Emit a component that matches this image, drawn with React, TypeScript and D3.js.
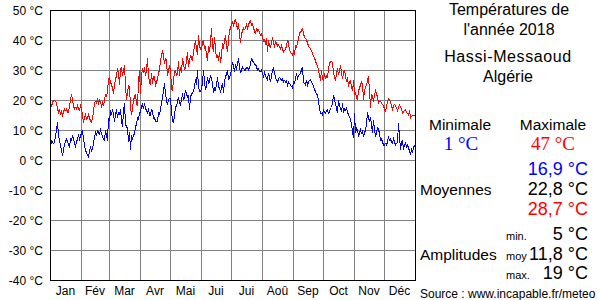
import React from "react";
import * as d3 from "d3";

const monthLabels = ["Jan", "Fév", "Mar", "Avr", "Mai", "Jui", "Jui", "Aoû", "Sep", "Oct", "Nov", "Déc"];
const monthDays = [31, 28, 31, 30, 31, 30, 31, 31, 30, 31, 30, 31];
const yTicks = [50, 40, 30, 20, 10, 0, -10, -20, -30, -40];

const maxTemps = [
  18.5, 18, 19, 20, 20, 19.5, 19, 17, 16, 17, 15, 16, 15, 16, 17, 16.5, 17, 16, 16, 18, 20, 22, 20, 18, 17, 17.5, 17, 18, 17, 16.5, 18,
  17, 15, 12.5, 14, 15, 13.5, 14, 15, 14, 13, 12.5, 14, 16, 19, 19.5, 19, 20, 19, 20, 19.5, 18, 19, 18, 20, 22, 21, 23, 27,
  27.5, 26, 25, 24, 22, 25, 27, 28, 30.5, 29, 25, 30, 31, 28, 30, 31.5, 25, 20, 22.5, 25, 24, 18, 15, 17, 20, 21, 22, 19, 18, 26, 30,
  22, 28, 30.5, 29, 31, 28, 30, 34, 28, 26, 25, 29, 25.5, 28, 28, 24.5, 26, 27, 29, 30, 33, 35, 36, 35, 32, 34, 33, 28, 30, 31,
  30, 24, 23, 27, 29, 30, 28, 29, 33, 28, 31, 29, 34, 32, 30, 31, 33, 36, 31, 33, 35, 34, 33, 36, 38, 40, 37, 35, 41.5, 38, 37,
  37, 39, 40, 37, 38, 35, 33, 38, 36, 39, 44, 38, 36, 41, 37, 34, 35, 33, 36, 32.5, 35, 39, 37, 40, 41.5, 38, 36, 40, 43, 44,
  45.5, 46, 45, 46, 47, 45, 44, 45.5, 42, 39, 42, 43, 44, 43.5, 44, 45, 44, 45, 46, 46.5, 45, 45.5, 44, 43, 42, 44, 43, 43.5, 42.5, 41.5, 42,
  41, 39.5, 40, 39, 40.5, 36, 40, 38, 37.5, 39, 41, 39, 38, 39.5, 39, 38, 38.5, 37.5, 37, 38, 37, 36, 36.5, 37, 38, 40, 39, 36.5, 36, 35.5, 35,
  36, 35, 38, 37.5, 39, 40.5, 42, 43, 43, 44, 42, 41, 40.5, 40, 39, 38, 37.5, 37, 36.5, 35.5, 34.5, 34, 33, 32, 31.5, 30, 28, 26.5, 30, 27,
  26.5, 29, 27, 28, 27.5, 30.5, 32, 33, 33, 32.5, 29, 27.5, 26.5, 29, 30.5, 28.5, 29.5, 31.5, 29, 27, 29, 30, 28, 26, 27.5, 24.5, 26, 26.5, 24.5, 23, 26.5,
  22, 22.5, 21, 20, 23, 24, 25, 26, 25.5, 20, 23, 24.5, 25, 26.5, 28, 23, 17.5, 22, 21, 20, 21.5, 23, 22, 21, 19, 19.5, 19.5, 19, 18.5, 18,
  17, 16, 18, 19.5, 20.5, 20, 19.5, 18, 17, 18, 18.5, 18, 17.5, 16.5, 17.5, 18.3, 17.8, 17, 15.5, 16, 16.5, 16.7, 16, 15.5, 15, 16.5, 14, 14.5, 15, 15, 15,
];

const minTemps = [
  8, 5.5, 6, 5.5, 6, 8, 10, 12.5, 8, 6.5, 5, 3, 1.5, 3.3, 5, 6.5, 7, 6, 5.5, 4, 7, 6.5, 8, 7.5, 5.5, 4.5, 6, 7, 8.5, 7, 8,
  9, 10, 7, 5, 3, 2.8, 1.5, 1, 3, 4.5, 2.8, 4, 5.5, 7.8, 9, 8, 10, 9, 8.5, 10, 9, 7.5, 7, 6.5, 10, 8, 6.5, 13.9,
  13, 16.5, 15, 17, 15, 12.8, 15, 17, 14, 16, 15, 17, 13, 11, 16, 19, 12, 11, 11, 6, 9.4, 3.3, 8.3, 7.2, 8, 9, 11, 12, 14, 13.5, 15.6,
  16, 17.8, 18.5, 17, 18.9, 17, 16.7, 15.5, 17.2, 15, 15, 17, 16, 13.9, 14, 13, 12.8, 12.8, 16, 15, 17.2, 19, 21, 23, 25.6, 22, 20, 18.3, 20, 20.5,
  20.5, 16, 13.3, 12.2, 15, 17.8, 18, 19.4, 21, 19, 18.3, 20, 22.2, 20, 21, 23.3, 22, 21, 21.5, 16.7, 21, 22, 22.2, 23.3, 24, 27, 25, 30, 24.4, 23, 22.8,
  24, 25.6, 30, 26, 23.3, 25, 27.8, 25.6, 26, 28.3, 27, 25.6, 22.2, 24, 23.3, 25, 27.8, 24.4, 24, 22.8, 24, 25.6, 22.2, 26, 27.8, 28.5, 30, 26.7, 27.5, 28.3,
  30.6, 32.8, 31, 30, 31.5, 30.5, 32, 34, 31, 29, 30, 31, 30.5, 30, 30, 31, 31, 30, 30.5, 32, 34, 33, 32.8, 32, 32, 31, 30, 30.5, 29.5, 29.4, 30,
  28.9, 27.8, 29, 28, 27.5, 26.7, 28.9, 27.5, 26, 28, 30, 30.6, 29, 27.8, 26.5, 26, 27, 27.5, 27.2, 26.5, 27, 26, 26.5, 26, 26.5, 25, 26, 25.5, 25, 24.5, 24,
  26, 25.6, 27, 28.9, 27.2, 28, 28.5, 29, 30, 31, 26, 25.5, 25, 26.7, 25, 26, 26.5, 26.7, 26, 25.5, 24.4, 23.5, 22.8, 22, 21.7, 20, 17, 15.6, 15.5, 15,
  16.7, 16, 15.6, 16.5, 16.7, 15.6, 16, 17.2, 17.5, 18.9, 21.7, 20, 18.9, 17, 15.6, 20, 18, 17.2, 16, 18.9, 15.6, 17, 16.5, 17.2, 16, 15, 14.5, 13.3, 12, 9.4, 7.2,
  15.6, 9, 10.6, 10, 7.8, 9, 10, 8.9, 9.5, 7.8, 9, 10, 12, 16, 14, 12.8, 14.4, 12, 8.9, 13.3, 10, 7.8, 9, 11, 10, 9, 6.7, 7, 6, 5,
  5, 5.5, 5, 6, 7.8, 6.5, 7, 6, 5.6, 7, 6, 5, 5.5, 6, 12.2, 8, 3.3, 6, 6.5, 3.5, 5, 5.6, 4.4, 5, 4, 3, 1.7, 3.5, 2.8, 4, 5,
];

const summaryMin = "1 °C";
const summaryMax = "47 °C";
const meanValues = ["16,9 °C", "22,8 °C", "28,7 °C"];
const ampLabels = ["min.", "moy", "max."];
const ampValues = ["5 °C", "11,8 °C", "19 °C"];

const W = 600;
const H = 300;
const L = 50, R = 415, T = 10, B = 280;

export default function App() {
  const x = d3.scaleLinear().domain([0, 365]).range([L, R]);
  const y = d3.scaleLinear().domain([-40, 50]).range([B, T]);
  const starts = d3.cumsum(monthDays);
  const line = d3
    .line<number>()
    .x((_, i) => x(i + 0.5))
    .y((v) => y(v));
  const sans = "'Liberation Sans', Arial, sans-serif";
  const serif = "'Liberation Serif', 'Times New Roman', serif";
  return (
    <svg width={W} height={H} style={{ position: "absolute", left: 0, top: 0, background: "#fff" }}>
      <rect x={0} y={0} width={W} height={H} fill="#fff" />
      {yTicks.map((t) => (
        <g key={"y" + t}>
          <line x1={L} x2={R} y1={Math.round(y(t)) + 0.5} y2={Math.round(y(t)) + 0.5} stroke="#808080" strokeWidth={1} />
          <text x={43} y={y(t) + 4.5} textAnchor="end" fontFamily={sans} fontSize={12} fill="#000">
            {t} °C
          </text>
        </g>
      ))}
      {Array.from(starts.slice(0, 11)).map((s, i) => (
        <line key={"v" + i} x1={Math.round(x(s)) + 0.5} x2={Math.round(x(s)) + 0.5} y1={T} y2={B} stroke="#808080" strokeWidth={1} />
      ))}
      {monthLabels.map((m, i) => {
        const s = i === 0 ? 0 : starts[i - 1];
        const mid = s + monthDays[i] / 2;
        return (
          <text key={"m" + i} x={x(mid)} y={295} textAnchor="middle" fontFamily={sans} fontSize={12} fill="#000">
            {m}
          </text>
        );
      })}
      <path d={line(maxTemps) || ""} fill="none" stroke="#ff0000" strokeWidth={1} shapeRendering="crispEdges" />
      <path d={line(minTemps) || ""} fill="none" stroke="#0000ff" strokeWidth={1} shapeRendering="crispEdges" />
      <rect x={L + 0.5} y={T + 0.5} width={R - L} height={B - T} fill="none" stroke="#000" strokeWidth={1} />

      <g fontFamily={sans} fill="#000">
        <text x={509} y={15} textAnchor="middle" fontSize={16}>Températures de</text>
        <text x={509} y={35} textAnchor="middle" fontSize={16}>l'année 2018</text>
        <text x={508} y={62} textAnchor="middle" fontSize={16} letterSpacing={0.6}>Hassi-Messaoud</text>
        <text x={508} y={82} textAnchor="middle" fontSize={16}>Algérie</text>
        <text x={460} y={130} textAnchor="middle" fontSize={15.5}>Minimale</text>
        <text x={553} y={130} textAnchor="middle" fontSize={15.5}>Maximale</text>
        <text x={461} y={150} textAnchor="middle" fontSize={19} fontFamily={serif} fill="#0000ff">{summaryMin}</text>
        <text x={553} y={150} textAnchor="middle" fontSize={19} fontFamily={serif} fill="#ff0000">{summaryMax}</text>
        <text x={588} y={175} textAnchor="end" fontSize={18} fill="#0000ff">{meanValues[0]}</text>
        <text x={420} y={195} fontSize={15.5}>Moyennes</text>
        <text x={588} y={195} textAnchor="end" fontSize={18}>{meanValues[1]}</text>
        <text x={588} y={215} textAnchor="end" fontSize={18} fill="#ff0000">{meanValues[2]}</text>
        <text x={420} y={260} fontSize={15.5}>Amplitudes</text>
        {ampLabels.map((a, i) => (
          <text key={a} x={506} y={240 + i * 19.5} fontSize={11}>{a}</text>
        ))}
        {ampValues.map((a, i) => (
          <text key={a} x={588} y={240 + i * 19.5} textAnchor="end" fontSize={18}>{a}</text>
        ))}
        <text x={420} y={298} fontSize={12}>Source : www.incapable.fr/meteo</text>
      </g>
    </svg>
  );
}
